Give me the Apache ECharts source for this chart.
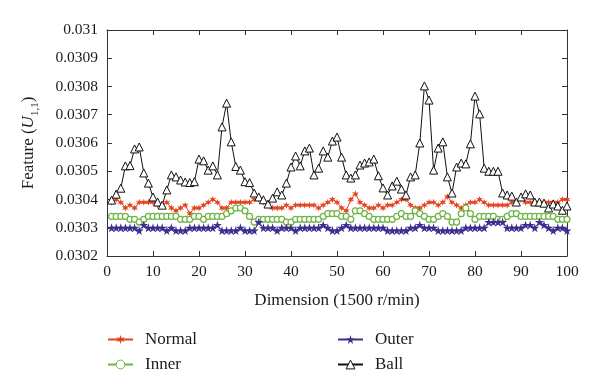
<!DOCTYPE html>
<html>
<head>
<meta charset="utf-8">
<script src="https://cdn.jsdelivr.net/npm/echarts@6/dist/echarts.min.js"></script>
<style>html,body{margin:0;padding:0;background:#fff}#c{width:600px;height:388px}</style>
</head>
<body>
<div id="c"></div>
<script>
const dims = [1,2,3,4,5,6,7,8,9,10,11,12,13,14,15,16,17,18,19,20,21,22,23,24,25,26,27,28,29,30,31,32,33,34,35,36,37,38,39,40,41,42,43,44,45,46,47,48,49,50,51,52,53,54,55,56,57,58,59,60,61,62,63,64,65,66,67,68,69,70,71,72,73,74,75,76,77,78,79,80,81,82,83,84,85,86,87,88,89,90,91,92,93,94,95,96,97,98,99,100];
const xTicks = [0,10,20,30,40,50,60,70,80,90,100];
const yTicks = [0.0302,0.0303,0.0304,0.0305,0.0306,0.0307,0.0308,0.0309,0.031];

const normal = [
0.03039,0.03040,0.03039,0.03037,0.03038,0.03037,0.03039,0.03039,0.03039,0.03039,
0.03038,0.03038,0.03039,0.03037,0.03036,0.03037,0.03038,0.03035,0.03037,0.03037,
0.03038,0.03039,0.03040,0.03039,0.03037,0.03037,0.03039,0.03039,0.03039,0.03039,
0.03039,0.03040,0.03040,0.03039,0.03038,0.03037,0.03037,0.03037,0.03038,0.03037,
0.03038,0.03038,0.03038,0.03038,0.03038,0.03037,0.03038,0.03039,0.03040,0.03039,
0.03037,0.03036,0.03040,0.03042,0.03039,0.03038,0.03037,0.03037,0.03038,0.03037,
0.03038,0.03038,0.03039,0.03040,0.03040,0.03038,0.03037,0.03037,0.03038,0.03039,
0.03039,0.03038,0.03039,0.03041,0.03039,0.03038,0.03037,0.03038,0.03039,0.03039,
0.03040,0.03039,0.03038,0.03038,0.03038,0.03038,0.03038,0.03039,0.03039,0.03040,
0.03039,0.03039,0.03039,0.03039,0.03039,0.03039,0.03039,0.03039,0.03040,0.03040];

const inner = [
0.03034,0.03034,0.03034,0.03034,0.03033,0.03033,0.03032,0.03033,0.03034,0.03034,
0.03034,0.03034,0.03034,0.03034,0.03034,0.03033,0.03033,0.03033,0.03034,0.03034,
0.03033,0.03034,0.03034,0.03034,0.03034,0.03035,0.03036,0.03037,0.03037,0.03036,
0.03034,0.03032,0.03033,0.03033,0.03033,0.03033,0.03033,0.03033,0.03032,0.03032,
0.03033,0.03033,0.03033,0.03033,0.03033,0.03033,0.03034,0.03035,0.03035,0.03035,
0.03034,0.03034,0.03033,0.03036,0.03036,0.03035,0.03034,0.03033,0.03033,0.03033,
0.03033,0.03033,0.03034,0.03035,0.03034,0.03034,0.03036,0.03035,0.03034,0.03033,
0.03033,0.03034,0.03035,0.03034,0.03032,0.03032,0.03035,0.03037,0.03035,0.03033,
0.03034,0.03034,0.03034,0.03034,0.03033,0.03033,0.03034,0.03035,0.03035,0.03034,
0.03034,0.03034,0.03034,0.03034,0.03034,0.03034,0.03034,0.03033,0.03033,0.03033];

const outer = [
0.03030,0.03030,0.03030,0.03030,0.03030,0.03030,0.03029,0.03031,0.03030,0.03030,
0.03030,0.03030,0.03029,0.03030,0.03029,0.03029,0.03029,0.03030,0.03030,0.03030,
0.03030,0.03030,0.03030,0.03031,0.03029,0.03029,0.03029,0.03029,0.03030,0.03029,
0.03029,0.03029,0.03032,0.03030,0.03030,0.03030,0.03029,0.03030,0.03030,0.03030,
0.03029,0.03030,0.03030,0.03030,0.03030,0.03030,0.03031,0.03030,0.03029,0.03029,
0.03030,0.03031,0.03030,0.03030,0.03030,0.03030,0.03030,0.03030,0.03030,0.03030,
0.03029,0.03029,0.03029,0.03029,0.03029,0.03030,0.03030,0.03031,0.03030,0.03030,
0.03030,0.03029,0.03029,0.03029,0.03029,0.03029,0.03029,0.03030,0.03030,0.03030,
0.03030,0.03030,0.03032,0.03032,0.03032,0.03032,0.03030,0.03030,0.03030,0.03030,
0.03031,0.03031,0.03030,0.03032,0.03031,0.03030,0.03029,0.03030,0.03030,0.03029];

const ball = [
0.030398,0.030419,0.030440,0.030519,0.030520,0.030579,0.030586,0.030494,0.030458,0.030409,
0.030391,0.030380,0.030434,0.030487,0.030480,0.030469,0.030462,0.030460,0.030463,0.030543,
0.030537,0.030504,0.030519,0.030487,0.030657,0.030741,0.030604,0.030517,0.030504,0.030463,
0.030460,0.030423,0.030409,0.030399,0.030384,0.030405,0.030427,0.030416,0.030458,0.030515,
0.030554,0.030519,0.030572,0.030582,0.030487,0.030511,0.030572,0.030550,0.030607,0.030621,
0.030550,0.030487,0.030476,0.030487,0.030522,0.030529,0.030533,0.030543,0.030484,0.030441,
0.030416,0.030448,0.030465,0.030437,0.030416,0.030480,0.030487,0.030600,0.030802,0.030752,
0.030504,0.030582,0.030604,0.030480,0.030423,0.030515,0.030529,0.030526,0.030597,0.030766,
0.030703,0.030511,0.030500,0.030500,0.030500,0.030423,0.030416,0.030412,0.030391,0.030409,
0.030420,0.030416,0.030391,0.030391,0.030387,0.030370,0.030384,0.030377,0.030362,0.030377];

const FONT = '"Liberation Serif", "DejaVu Serif", serif';
const AX = '#333';
const TXT = '#1a1a1a';
const starPath = 'path://M50,0 L61,35 L98,35 L68,57 L79,91 L50,70 L21,91 L32,57 L2,35 L39,35 Z';
const astPath = 'path://M50,0 L60,33 L93,25 L70,50 L93,75 L60,67 L50,100 L40,67 L7,75 L30,50 L7,25 L40,33 Z';

function pairs(vals){ return dims.map((d,k)=>[d, vals[k]]); }

const chart = echarts.init(document.getElementById('c'), null, {renderer:'canvas'});

const baseX = {type:'value', min:xTicks[0], max:xTicks[xTicks.length-1], interval:10,
  axisLine:{show:true, onZero:false, lineStyle:{color:AX, width:1}},
  axisTick:{show:true, inside:true, length:5, lineStyle:{color:AX}},
  splitLine:{show:false}};
const baseY = {type:'value', min:yTicks[0], max:yTicks[yTicks.length-1], interval:0.0001,
  axisLine:{show:true, onZero:false, lineStyle:{color:AX, width:1}},
  axisTick:{show:true, inside:true, length:5, lineStyle:{color:AX}},
  splitLine:{show:false}};

function legendAt(name, left, top){
  return {data:[name], left:left, top:top, padding:0, itemWidth:25, itemHeight:11, itemGap:0,
    itemStyle:{borderWidth:1},
    textStyle:{fontFamily:FONT, fontSize:17, color:TXT, padding:[0,0,0,7]}};
}

chart.setOption({
  animation:false,
  backgroundColor:'#fff',
  grid:{left:107, right:33, top:30, bottom:132},
  legend:[legendAt('Normal',107,331), legendAt('Outer',337,331), legendAt('Inner',107,356), legendAt('Ball',337,356)],
  xAxis:[
    Object.assign({}, baseX, {position:'bottom',
      name:'Dimension (1500 r/min)', nameLocation:'middle', nameGap:36,
      nameTextStyle:{fontFamily:FONT, fontSize:17, color:TXT},
      axisLabel:{fontFamily:FONT, fontSize:15.5, color:TXT, margin:8}}),
    Object.assign({}, baseX, {position:'top', axisLabel:{show:false}})
  ],
  yAxis:[
    Object.assign({}, baseY, {position:'left',
      name:'{a|Feature (}{i|U}{s|1,1}{a|)}', nameLocation:'middle', nameGap:66, nameRotate:90,
      nameTextStyle:{fontFamily:FONT, fontSize:17, color:TXT,
        rich:{a:{fontFamily:FONT, fontSize:17, color:TXT, lineHeight:24},
              i:{fontFamily:FONT, fontSize:17, color:TXT, fontStyle:'italic', lineHeight:24},
              s:{fontFamily:FONT, fontSize:11, color:TXT, verticalAlign:'bottom', lineHeight:24}}},
      axisLabel:{fontFamily:FONT, fontSize:15.5, color:TXT, margin:9,
        formatter:function(v){ return String(parseFloat(v.toFixed(4))); }}}),
    Object.assign({}, baseY, {position:'right', axisLabel:{show:false}})
  ],
  series:[
    {name:'Normal', type:'line', data:pairs(normal), color:'#e2431e',
      lineStyle:{width:1, color:'#e2431e'}, symbol:astPath, symbolSize:7,
      itemStyle:{color:'#e2431e'}},
    {name:'Inner', type:'line', data:pairs(inner), color:'#6cb33f',
      lineStyle:{width:1, color:'#6cb33f'}, symbol:'circle', symbolSize:6,
      itemStyle:{color:'#fff', borderColor:'#6cb33f', borderWidth:1.2}},
    {name:'Outer', type:'line', data:pairs(outer), color:'#3b2e8f',
      lineStyle:{width:1, color:'#3b2e8f'}, symbol:starPath, symbolSize:9,
      itemStyle:{color:'#3b2e8f'}},
    {name:'Ball', type:'line', data:pairs(ball), color:'#111',
      lineStyle:{width:1, color:'#111'}, symbol:'triangle', symbolSize:8,
      itemStyle:{color:'#fff', borderColor:'#111', borderWidth:1}}
  ]
});
</script>
</body>
</html>
